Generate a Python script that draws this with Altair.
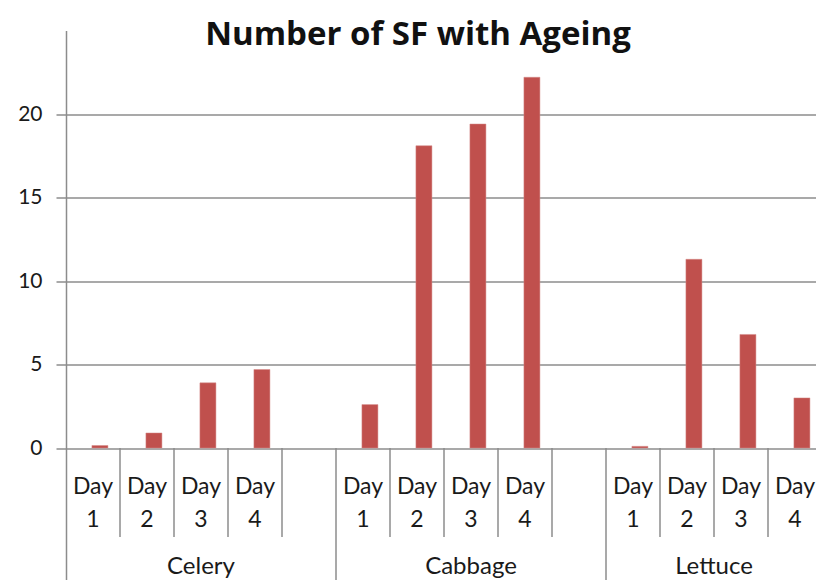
import altair as alt
import pandas as pd

# ---- data ----
groups = ["Celery", "Cabbage", "Lettuce"]
days = ["Day 1", "Day 2", "Day 3", "Day 4"]
celery = [0.15, 0.9, 3.9, 4.7]
cabbage = [2.6, 18.1, 19.4, 22.2]
lettuce = [0.1, 11.3, 6.8, 3.0]
series = [celery, cabbage, lettuce]
y_ticks = [0, 5, 10, 15, 20]

# ---- layout / style constants ----
SLOT_PX = 54.0
PAD_LEFT = 58
W = 808 - PAD_LEFT
H = 549.5
Y_MIN, Y_MAX = -7.904, 25
BAR_OFF, BAR_W = 0.48, 16 / SLOT_PX
DAY_Y, NUM_Y, GROUP_Y = -2.75, -4.73, -7.54
SHORT_TICK_Y = -5.33
RED = "#C0504D"
GRID = "#8c8c8c"
TXT = "#1a1a1a"
FONT = "Lato"

# build slots (Excel-style with an empty slot between groups)
bars, labels, bounds, glabels = [], [], [], []
slot = 0
for gi, (g, vals) in enumerate(zip(groups, series)):
    start = slot
    for d, v in zip(days, vals):
        bars.append({"group": g, "day": d, "value": v, "x": slot + BAR_OFF, "x2": slot + BAR_OFF + BAR_W})
        w1, w2 = d.split(" ")
        labels.append({"w1": w1, "w2": w2, "xc": slot + 0.5})
        if slot != start:
            bounds.append({"x": slot, "y2": SHORT_TICK_Y})
        slot += 1
    if gi < len(groups) - 1:
        bounds.append({"x": slot, "y2": SHORT_TICK_Y})
        slot += 1
    end = slot
    glabels.append({"g": g, "xc": (start + end) / 2})
    if gi > 0:
        bounds.append({"x": start, "y2": Y_MIN})
bounds.append({"x": slot, "y2": SHORT_TICK_Y})

bars_df = pd.DataFrame(bars)
labels_df = pd.DataFrame(labels)
bounds_df = pd.DataFrame(bounds)
bounds_df["y"] = 0
glabels_df = pd.DataFrame(glabels)

xscale = alt.Scale(domain=[0, W / SLOT_PX], nice=False, zero=False)
yscale = alt.Scale(domain=[Y_MIN, Y_MAX], nice=False, zero=False)

yaxis = alt.Axis(values=y_ticks, grid=True, gridColor=GRID, gridWidth=1.5,
                 domainColor=GRID, domainWidth=1.5, tickColor=GRID, tickWidth=1.5,
                 tickSize=10, labelPadding=14, labelFont=FONT, labelFontSize=21,
                 labelColor=TXT, title=None)

bar_layer = alt.Chart(bars_df).mark_bar(color=RED, stroke="#d58a88", strokeWidth=0.5).encode(
    x=alt.X("x:Q", scale=xscale, axis=None),
    x2="x2:Q",
    y=alt.Y("value:Q", scale=yscale, axis=yaxis),
    y2=alt.datum(0),
)

rule_layer = alt.Chart(bounds_df).mark_rule(color=GRID, strokeWidth=1.5).encode(
    x=alt.X("x:Q", scale=xscale), y=alt.Y("y:Q", scale=yscale), y2="y2:Q"
)

def text_layer(df, ypos, field, size):
    return alt.Chart(df).transform_calculate(yy=str(ypos)).mark_text(
        font=FONT, fontSize=size, color=TXT, baseline="alphabetic", align="center"
    ).encode(x=alt.X("xc:Q", scale=xscale), y=alt.Y("yy:Q", scale=yscale), text=f"{field}:N")

day_text = text_layer(labels_df, DAY_Y, "w1", 23)
num_text = text_layer(labels_df, NUM_Y, "w2", 23)
grp_text = text_layer(glabels_df, GROUP_Y, "g", 24)

chart = alt.layer(bar_layer, rule_layer, day_text, num_text, grp_text).properties(
    width=W, height=H,
    autosize=alt.AutoSizeParams(type="none"),
    padding={"left": PAD_LEFT, "top": 22.5, "right": 0, "bottom": 0},
    title=alt.TitleParams("Number of SF with Ageing", font="Open Sans", fontSize=33,
                          fontWeight="bold", color="#111", anchor="middle",
                          dx=-23, baseline="alphabetic", offset=0, dy=47),
).configure_view(stroke=None)

chart.save("out.html", embed_options={"renderer": "svg", "actions": False})
